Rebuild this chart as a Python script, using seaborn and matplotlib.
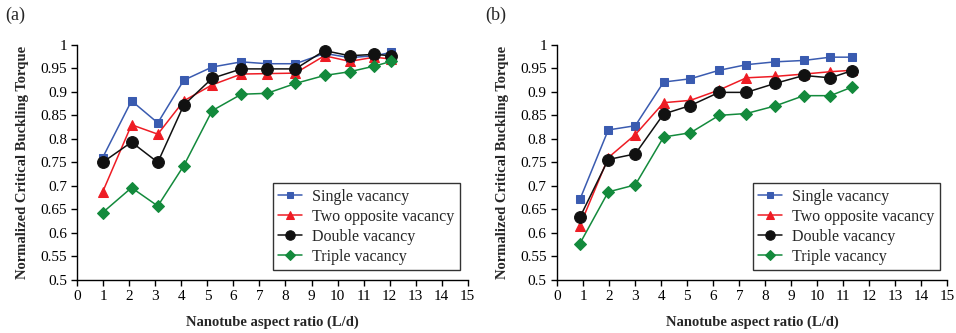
import matplotlib
matplotlib.use("Agg")
import matplotlib.pyplot as plt
import pandas as pd
import seaborn as sns

# aspect ratios (L/d)
ratio_a = [0.97, 2.08, 3.09, 4.09, 5.18, 6.3, 7.29, 8.38, 9.5, 10.47, 11.42, 12.06]
ratio_b = [0.87, 1.96, 3.0, 4.09, 5.12, 6.22, 7.27, 8.37, 9.48, 10.5, 11.32]

# panel (a)
single_a = [0.760, 0.881, 0.834, 0.925, 0.953, 0.964, 0.960, 0.960, 0.982, 0.973, 0.977, 0.984]
opposite_a = [0.687, 0.830, 0.810, 0.881, 0.915, 0.938, 0.939, 0.940, 0.977, 0.965, 0.974, 0.970]
double_a = [0.750, 0.793, 0.750, 0.872, 0.929, 0.949, 0.949, 0.949, 0.988, 0.977, 0.980, 0.977]
triple_a = [0.643, 0.696, 0.657, 0.743, 0.860, 0.895, 0.897, 0.918, 0.935, 0.943, 0.955, 0.965]

# panel (b)
single_b = [0.671, 0.819, 0.828, 0.921, 0.928, 0.946, 0.958, 0.964, 0.967, 0.974, 0.974]
opposite_b = [0.615, 0.760, 0.809, 0.877, 0.882, 0.904, 0.930, 0.933, 0.938, 0.943, 0.946]
double_b = [0.633, 0.756, 0.768, 0.853, 0.871, 0.899, 0.899, 0.918, 0.935, 0.930, 0.945]
triple_b = [0.577, 0.687, 0.702, 0.804, 0.813, 0.850, 0.854, 0.870, 0.892, 0.892, 0.910]

names = ["Single vacancy", "Two opposite vacancy", "Double vacancy", "Triple vacancy"]
colors = ["#3A5BB0", "#EE1C24", "#111111", "#138A3C"]
markers = ["s", "^", "o", "D"]
sizes = [5.5, 6.5, 8.5, 6]

sns.set_theme(style="ticks")
plt.rcParams["font.family"] = ["Liberation Serif", "DejaVu Serif"]


def long_table(x, series):
    rows = []
    for name, vals in zip(names, series):
        for xi, yi in zip(x, vals):
            rows.append({"ratio": xi, "torque": yi, "case": name})
    return pd.DataFrame(rows)


def panel(ax, df):
    for name, c, m, s in zip(names, colors, markers, sizes):
        sub = df[df["case"] == name]
        sns.lineplot(data=sub, x="ratio", y="torque", ax=ax, color=c, marker=m,
                     markersize=s, markeredgecolor=c, linewidth=1.1, label=name)
    ax.set_xlim(0, 15)
    ax.set_ylim(0.5, 1.0)
    ax.set_xticks(range(0, 16))
    ax.set_yticks([0.5, 0.55, 0.6, 0.65, 0.7, 0.75, 0.8, 0.85, 0.9, 0.95, 1.0])
    ax.set_yticklabels(["0.5", "0.55", "0.6", "0.65", "0.7", "0.75", "0.8",
                        "0.85", "0.9", "0.95", "1"])
    ax.tick_params(labelsize=11, length=4, width=1, colors="black")
    for sp in ["top", "right"]:
        ax.spines[sp].set_visible(False)
    for sp in ["left", "bottom"]:
        ax.spines[sp].set_color("black")
        ax.spines[sp].set_linewidth(1)
    ax.set_xlabel("Nanotube aspect ratio (L/d)", fontsize=10.5, fontweight="bold", labelpad=9)
    ax.set_ylabel("Normalized Critical Buckling Torque", fontsize=10.5, fontweight="bold", labelpad=8)
    leg = ax.legend(loc="lower right", bbox_to_anchor=(0.98, 0.04), borderaxespad=0,
                    fontsize=11.5, frameon=True, fancybox=False, handlelength=1.5,
                    handletextpad=0.6, borderpad=0.35, labelspacing=0.25, markerscale=0.8)
    leg.get_frame().set_edgecolor("black")
    leg.get_frame().set_linewidth(1)


fig, axes = plt.subplots(1, 2, figsize=(9.56, 3.33), dpi=100)
panel(axes[0], long_table(ratio_a, [single_a, opposite_a, double_a, triple_a]))
panel(axes[1], long_table(ratio_b, [single_b, opposite_b, double_b, triple_b]))
fig.subplots_adjust(left=0.081, right=0.991, bottom=0.16, top=0.865, wspace=0.23)
fig.text(0.005, 0.94, "(a)", fontsize=13)
fig.text(0.508, 0.94, "(b)", fontsize=13)
fig.savefig("out.png", dpi=100)
